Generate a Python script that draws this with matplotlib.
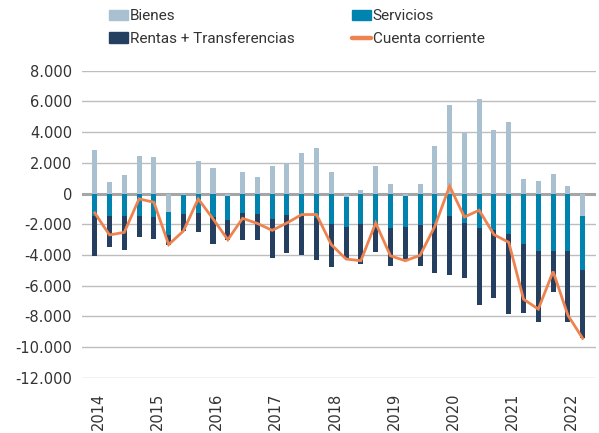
import matplotlib
matplotlib.use("Agg")
import matplotlib.pyplot as plt
from matplotlib.patches import Patch
from matplotlib.lines import Line2D
from matplotlib.ticker import FuncFormatter
import numpy as np

plt.rcParams['font.family'] = ['Roboto', 'DejaVu Sans']

years = ["2014", "2015", "2016", "2017", "2018", "2019", "2020", "2021", "2022"]

bienes = [2850, 780, 1180, 2460, 2360, -1180, -130, 2090, 1640, -180, 1380, 1070,
          1770, 1960, 2660, 2940, 1420, -220, 200, 1810, 650, -170, 630, 3100,
          5760, 3950, 6150, 4140, 4640, 920, 790, 1260, 460, -1480]
servicios = [-1480, -1480, -1480, -1440, -1550, -1530, -1200, -1240, -1560, -1550, -1300, -1330,
             -1660, -1370, -1370, -1590, -2000, -1950, -1960, -1960, -2240, -2040, -2060, -1960,
             -1460, -1900, -2230, -2350, -2620, -3310, -3770, -3770, -3770, -3490]
rentas = [-2590, -2030, -2220, -1370, -1420, -660, -1100, -1240, -1730, -1330, -1740, -1720,
          -2530, -2530, -2620, -2770, -2790, -2100, -2620, -1860, -2510, -2060, -2650, -3250,
          -3840, -3620, -5030, -4470, -5250, -4490, -4580, -2660, -4580, -4470]
cuenta = [-1260, -2700, -2530, -350, -570, -3330, -2440, -350, -1650, -3010, -1620, -1950,
          -2400, -1920, -1370, -1370, -3330, -4270, -4380, -1920, -4060, -4380, -4030, -2140,
          480, -1530, -1090, -2680, -3180, -6890, -7530, -5080, -7930, -9440]

c_bienes = "#A9C0D1"
c_serv = "#0083AE"
c_rentas = "#243F5F"
c_line = "#EF834F"
c_text = "#333333"

fig = plt.figure(figsize=(5.99, 4.33), dpi=100)
ax = fig.add_axes([81.7/599, 1-377.7/433, (596-81.7)/599, (377.7-70.7)/433])

x = np.arange(len(bienes))
b = np.array(bienes, float)
s = np.array(servicios, float)
r = np.array(rentas, float)

pos_base = np.zeros_like(b)
neg_base = np.zeros_like(b)
w = 0.34

def stack(vals, color):
    global pos_base, neg_base
    bottoms = np.where(vals >= 0, pos_base, neg_base)
    ax.bar(x, vals, width=w, bottom=bottoms, color=color, linewidth=0, zorder=3)
    pos_base = pos_base + np.where(vals >= 0, vals, 0)
    neg_base = neg_base + np.where(vals < 0, vals, 0)

stack(b, c_bienes)
stack(s, c_serv)
stack(r, c_rentas)

ax.plot(x, cuenta, color=c_line, lw=2.0, zorder=4, solid_joinstyle='miter')

ax.set_ylim(-12000, 8000)
ax.set_xlim(-0.88, 33.9)
ax.set_yticks(np.arange(-12000, 8001, 2000))
ax.yaxis.set_major_formatter(FuncFormatter(lambda v, p: f"{int(v):,}".replace(",", ".")))
ax.grid(axis='y', color='#BDBDBD', lw=1.0, zorder=0)
ax.axhline(0, color='#A6A6A6', lw=2.2, zorder=2)
for sp in ax.spines.values():
    sp.set_visible(False)
ax.tick_params(axis='y', length=0, pad=7, labelcolor=c_text)
ax.tick_params(axis='x', length=0, pad=11, labelcolor=c_text)
ax.set_xticks(np.arange(0, len(bienes), 4) + 0.25)
ax.set_xticklabels(years, rotation=90, va='top', ha='center')
for lab in ax.get_yticklabels() + ax.get_xticklabels():
    lab.set_family(['DejaVu Sans'])
    lab.set_fontsize(10.5)

handles = [Patch(color=c_bienes), Patch(color=c_rentas), Patch(color=c_serv),
           Line2D([0], [0], color=c_line, lw=3.2, solid_capstyle='round')]
labels = ["Bienes", "Rentas + Transferencias", "Servicios", "Cuenta corriente"]
fig.legend(handles, labels, ncol=2, loc='upper left', bbox_to_anchor=(109/599, 1-9/433),
           frameon=False, fontsize=11, handlelength=1.25, handleheight=0.65,
           handletextpad=0.12, columnspacing=3.75, labelspacing=0.58, borderpad=0,
           borderaxespad=0, labelcolor=c_text)

fig.savefig("out.png", dpi=100)
